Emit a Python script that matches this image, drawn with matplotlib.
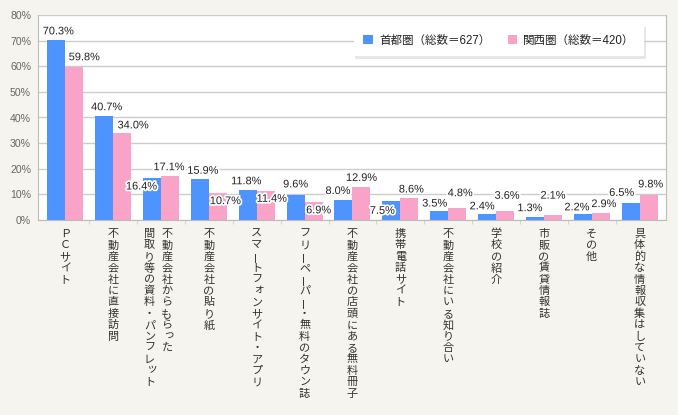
import matplotlib.pyplot as plt
import matplotlib.patheffects as pe
import numpy as np

categories = [
    "ＰＣサイト",
    "不動産会社に直接訪問",
    "不動産会社からもらった\n間取り等の資料・パンフレット",
    "不動産会社の貼り紙",
    "スマートフォンサイト・アプリ",
    "フリーペーパー・無料のタウン誌",
    "不動産会社の店頭にある無料冊子",
    "携帯電話サイト",
    "不動産会社にいる知り合い",
    "学校の紹介",
    "市販の賃貸情報誌",
    "その他",
    "具体的な情報収集はしていない",
]
series_names = ["首都圏（総数＝627）", "関西圏（総数＝420）"]
shutoken = [70.3, 40.7, 16.4, 15.9, 11.8, 9.6, 8.0, 7.5, 3.5, 2.4, 1.3, 2.2, 6.5]
kansai = [59.8, 34.0, 17.1, 10.7, 11.4, 6.9, 12.9, 8.6, 4.8, 3.6, 2.1, 2.9, 9.8]
yticks = [0, 10, 20, 30, 40, 50, 60, 70, 80]

# label nudges in pixels (to keep value labels from colliding)
blue_dx = [2, 2.5, -10.5, 3, -1.5, 0, -5.5, -9, -4.5, -5, -5, -6, -9]
blue_dy = [0, 0, -17, 0, 0, 2.5, 0, -18.5, -1, -1, 0, -1.5, 2]
pink_dx = [10, 11, -1, 7.5, 6, 5, 0, 2, 3, 2, 0, 3, 2]
pink_dy = [1, -1, 0.5, -17, -16.5, -16.5, 0.5, 0, 6, 6.5, 10.5, 0, 2]

BG = "#f5f4ee"
BLUE = "#4d94ff"
PINK = "#f9a3c9"
NUM_FONT = ["Liberation Sans", "Noto Sans CJK JP"]

W, H = 678, 415
fig = plt.figure(figsize=(W / 100, H / 100), dpi=100, facecolor=BG)
ax = fig.add_axes([38 / W, 1 - 220 / H, (666 - 38) / W, (220 - 15) / H])
ax.set_facecolor("white")

x = np.arange(len(categories))
bw = 0.376
ax.bar(x - bw / 2, shutoken, bw, color=BLUE, label=series_names[0], zorder=2)
ax.bar(x + bw / 2, kansai, bw, color=PINK, label=series_names[1], zorder=2)

ax.set_xlim(-0.57, 12.55)
ax.set_ylim(0, 80)
ax.set_yticks(yticks)
ax.set_yticklabels([f"{v}%" for v in yticks], family=NUM_FONT, fontsize=7.6, color="#666666")
ax.tick_params(axis="y", length=0, pad=5)
ax.yaxis.grid(True, color="#cccccc", linewidth=1, zorder=0)
ax.set_xticks([])
ax.set_xticks(x[:-1] + 0.5, minor=True)
ax.tick_params(axis="x", which="minor", length=3, color="#cccccc", direction="out")
for s in ["left", "right", "bottom"]:
    ax.spines[s].set_color("#bbbbbb")
ax.spines["top"].set_visible(False)

halo = [pe.withStroke(linewidth=2.5, foreground="white")]
for vals, offs, dxs, dys in [(shutoken, -bw / 2, blue_dx, blue_dy), (kansai, bw / 2, pink_dx, pink_dy)]:
    for i, v in enumerate(vals):
        ax.annotate(f"{v:.1f}%", xy=(i + offs, v), xytext=(dxs[i], 8.5 + dys[i]),
                    textcoords="offset pixels", ha="center", va="center",
                    fontsize=7.9, family=NUM_FONT, color="#222222",
                    path_effects=halo, zorder=5)

# vertical (tategaki) category labels, one character at a time
small_kana = set("っッゃゅょャュョァィゥェォぁぃぅぇぉ")
step = 11.4
for i, cat in enumerate(categories):
    cols = cat.split("\n")
    if len(cols) == 1:
        col_dx = [0]
    else:
        col_dx = [6, -11.5]
    for col, cdx in zip(cols, col_dx):
        for k, ch in enumerate(col):
            dx, dy, rot = cdx, -(14 + k * step), 0
            if ch == "ー":
                rot = 90
            if ch in small_kana:
                dx += 2
                dy += 2
            ax.annotate(ch, xy=(i, 0), xycoords=("data", "axes fraction"),
                        xytext=(dx, dy), textcoords="offset pixels",
                        ha="center", va="center", rotation=rot,
                        fontsize=8, family="Noto Sans CJK JP", color="#333333",
                        annotation_clip=False)

leg = ax.legend(loc="center", bbox_to_anchor=(499 / W, 1 - 40.5 / H),
                bbox_transform=fig.transFigure, ncol=2, frameon=True,
                fancybox=False, shadow={"ox": 1, "oy": -2, "color": "#d0d0d0"},
                prop={"family": NUM_FONT, "size": 8.3},
                handlelength=0.85, handleheight=0.85, handletextpad=0.5,
                columnspacing=1.5, borderpad=0.85, edgecolor="white")
leg.get_frame().set_linewidth(0)
for t in leg.get_texts():
    t.set_color("#222222")

fig.savefig("out.png", dpi=100, facecolor=BG)
